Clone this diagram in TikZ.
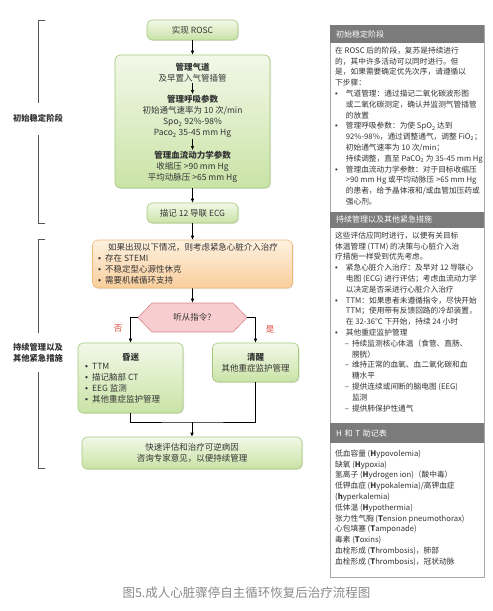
\documentclass[tikz,border=0pt]{standalone}
\usepackage{fontspec}
\setmainfont{Noto Sans CJK SC}
\newfontfamily\bulletfont{Liberation Sans}
\usepackage{tikz}
\usetikzlibrary{arrows.meta,shapes.symbols,shadows}
\definecolor{greentop}{HTML}{F2F8E8}
\definecolor{greenbot}{HTML}{C9E3A6}
\definecolor{greenline}{HTML}{A3C97A}
\definecolor{orangetop}{HTML}{FEF1E0}
\definecolor{orangebot}{HTML}{F9CE9B}
\definecolor{orangeline}{HTML}{EFB979}
\definecolor{pinkfill}{HTML}{F7CDD0}
\definecolor{pinkline}{HTML}{D88890}
\definecolor{panelgray}{HTML}{7B7B7B}
\definecolor{panelline}{HTML}{A8A8A8}
\definecolor{textc}{HTML}{333333}
\definecolor{redlabel}{HTML}{E0483F}
\definecolor{brkc}{HTML}{555555}
\definecolor{capc}{HTML}{8A8A8A}
\newcommand{\bul}{{\bulletfont\textbullet}}
\newcommand{\rpPar}[1]{\multicolumn{3}{@{}l@{}}{#1}}
\newcommand{\rpBul}[1]{\bul & \multicolumn{2}{l@{}}{#1}}
\newcommand{\rpCont}[1]{& \multicolumn{2}{l@{}}{#1}}
\newcommand{\rpSub}[1]{& \hspace*{5pt}– & #1}
\newcommand{\rpSubCont}[1]{& & #1}

\begin{document}
\begin{tikzpicture}[x=1pt, y=-1pt,
  gbox/.style={draw=greenline, line width=0.6pt, rounded corners=5pt, top color=greentop, bottom color=greenbot,
    drop shadow={opacity=0.18, shadow xshift=1pt, shadow yshift=-1pt}},
  obox/.style={draw=orangeline, line width=0.6pt, rounded corners=5pt, top color=orangetop, bottom color=orangebot,
    drop shadow={opacity=0.18, shadow xshift=1pt, shadow yshift=-1pt}},
  flowtxt/.style={font=\fontsize{8.5}{11}\selectfont, text=textc, align=center, inner sep=1pt},
  arr/.style={-{Latex[length=4pt,width=3.5pt]}, line width=0.6pt, black},
  lnk/.style={line width=0.6pt, black},
  brk/.style={brkc, line width=0.9pt},
  sidelab/.style={font=\fontsize{8.3}{11}\selectfont\bfseries, text=textc, align=center},
  hdr/.style={fill=panelgray, text=white, font=\fontsize{8}{10}\selectfont, anchor=north west, inner xsep=6pt, inner ysep=0pt,
    text width=142pt, minimum height=#1, align=left},
  paneltext/.style={font=\fontsize{7.7}{10.8}\selectfont, text=textc, anchor=north west, inner sep=0pt},
  branch/.style={font=\fontsize{8.5}{10}\selectfont, text=redlabel}]
  \useasboundingbox[fill=white] (0,0) rectangle (493,611);

  % left brackets
  \node[sidelab] (lab1) at (38,118) {初始稳定阶段};
  \node[sidelab] (lab2) at (38,352.5) {持续管理以及\\其他紧急措施};
  \draw[brk] (45,20) -- (38,20) -- (38,103);
  \draw[brk] (38,135) -- (38,223) -- (45,223);
  \draw[brk] (45,239) -- (38,239) -- (38,333);
  \draw[brk] (38,372) -- (38,468) -- (45,468);

  % flow
  \node[gbox, minimum width=91pt, minimum height=20pt, flowtxt] (rosc) at (192.5,30) {实现 ROSC};
  \node[gbox, minimum width=155pt, minimum height=133pt] (stab) at (192.5,121.5) {};
  \node[flowtxt] (airway) at (192.5,72.5) {\textbf{管理气道}\\及早置入气管插管};
  \node[flowtxt] (breath) at (192.5,116.5) {\textbf{管理呼吸参数}\\初始通气速率为 10 次/min\\Spo\textsubscript{2} 92\%-98\%\\Paco\textsubscript{2} 35-45 mm Hg};
  \node[flowtxt] (hemo) at (192.5,167) {\textbf{管理血流动力学参数}\\收缩压 >90 mm Hg\\平均动脉压 >65 mm Hg};
  \node[gbox, minimum width=91pt, minimum height=20pt, flowtxt] (ecg) at (192.5,213) {描记 12 导联 ECG};
  \node[obox, minimum width=200pt, minimum height=48pt] (pci) at (192.5,264) {};
  \node[flowtxt] (pcititle) at (193,247) {如果出现以下情况，则考虑紧急心脏介入治疗};
  \node[flowtxt, anchor=west, align=left] (pcilist) at (97,269) {\bul\hspace{4pt}存在 STEMI\\\bul\hspace{4pt}不稳定型心源性休克\\\bul\hspace{4pt}需要机械循环支持};
  \node[signal, signal to=west and east, signal pointer angle=92, draw=pinkline, fill=pinkfill, line width=0.6pt,
    minimum width=109pt, minimum height=29pt, flowtxt] (obey) at (192.5,317.5) {听从指令?};
  \node[gbox, minimum width=105pt, minimum height=70pt] (coma) at (130.5,378) {};
  \node[flowtxt] (comatitle) at (130.5,357) {\textbf{昏迷}};
  \node[flowtxt, anchor=west, align=left] (comalist) at (84,383) {\bul\hspace{4pt}TTM\\\bul\hspace{4pt}描记脑部 CT\\\bul\hspace{4pt}EEG 监测\\\bul\hspace{4pt}其他重症监护管理};
  \node[gbox, minimum width=86pt, minimum height=39pt, flowtxt] (awake) at (255.5,362.5) {\textbf{清醒}\\其他重症监护管理};
  \node[gbox, minimum width=220pt, minimum height=32pt, flowtxt] (cause) at (192,453) {快速评估和治疗可逆病因\\咨询专家意见，以便持续管理};
  \coordinate (join) at (192,422);

  \draw[arr] (rosc) -- (stab);
  \draw[arr] (airway) -- (breath);
  \draw[arr] (breath) -- (hemo);
  \draw[arr] (stab) -- (ecg);
  \draw[arr] (ecg) -- (pci);
  \draw[arr] (pci) -- (obey);
  \draw[arr] (obey.west) -| (coma.north);
  \draw[arr] (obey.east) -| (awake.north);
  \node[branch] (no) at (118,329) {否};
  \node[branch] (yes) at (270,329) {是};
  \draw[lnk] (coma.south) |- (join) -| (awake.south);
  \draw[arr] (join) -- (cause);

  % right panel
  \draw[panelline, line width=0.8pt, fill=white] (330,25) rectangle (484,577);
  \node[hdr=18pt] (h1) at (330,25) {初始稳定阶段};
  \node[hdr=16pt] (h2) at (330,211.5) {持续管理以及其他紧急措施};
  \node[hdr=20pt] (h3) at (330,423) {H 和 T 助记表};
  \node[paneltext] (s1) at (335,45.5) {\begin{tabular}{@{}l@{\hspace{2pt}}l@{\hspace{3pt}}l@{}}
    \rpPar{在 ROSC 后的阶段，复苏是持续进行}\\
    \rpPar{的，其中许多活动可以同时进行。但}\\
    \rpPar{是，如果需要确定优先次序，请遵循以}\\
    \rpPar{下步骤：}\\
    \rpBul{气道管理：通过描记二氧化碳波形图}\\
    \rpCont{或二氧化碳测定，确认并监测气管插管}\\
    \rpCont{的放置}\\
    \rpBul{管理呼吸参数：为使 SpO\textsubscript{2} 达到}\\
    \rpCont{92\%-98\%，通过调整通气，调整 FiO\textsubscript{2}；}\\
    \rpCont{初始通气速率为 10 次/min；}\\
    \rpCont{持续调整，直至 PaCO\textsubscript{2} 为 35-45 mm Hg}\\
    \rpBul{管理血流动力学参数：对于目标收缩压}\\
    \rpCont{>90 mm Hg 或平均动脉压 >65 mm Hg}\\
    \rpCont{的患者，给予晶体液和/或血管加压药或}\\
    \rpCont{强心剂。}
  \end{tabular}};
  \node[paneltext] (s2) at (335,230.5) {\begin{tabular}{@{}l@{\hspace{2pt}}l@{\hspace{3pt}}l@{}}
    \rpPar{这些评估应同时进行，以便有关目标}\\
    \rpPar{体温管理 (TTM) 的决策与心脏介入治}\\
    \rpPar{疗措施一样受到优先考虑。}\\
    \rpBul{紧急心脏介入治疗：及早对 12 导联心}\\
    \rpCont{电图 (ECG) 进行评估；考虑血流动力学}\\
    \rpCont{以决定是否采进行心脏介入治疗}\\
    \rpBul{TTM：如果患者未遵循指令，尽快开始}\\
    \rpCont{TTM；使用带有反馈回路的冷却装置，}\\
    \rpCont{在 32-36℃ 下开始，持续 24 小时}\\
    \rpBul{其他重症监护管理}\\
    \rpSub{持续监测核心体温（食管、直肠、}\\
    \rpSubCont{膀胱）}\\
    \rpSub{维持正常的血氧、血二氧化碳和血}\\
    \rpSubCont{糖水平}\\
    \rpSub{提供连续或间断的脑电图 (EEG)}\\
    \rpSubCont{监测}\\
    \rpSub{提供肺保护性通气}
  \end{tabular}};
  \node[paneltext] (s3) at (335,448.5) {\begin{tabular}{@{}l@{}}
    低血容量 (\textbf{H}ypovolemia)\\
    缺氧 (\textbf{H}ypoxia)\\
    氢离子 (\textbf{H}ydrogen ion)（酸中毒）\\
    低钾血症 (\textbf{H}ypokalemia)/高钾血症\\
    (\textbf{h}yperkalemia)\\
    低体温 (\textbf{H}ypothermia)\\
    张力性气胸 (\textbf{T}ension pneumothorax)\\
    心包填塞 (\textbf{T}amponade)\\
    毒素 (\textbf{T}oxins)\\
    血栓形成 (\textbf{T}hrombosis)，肺部\\
    血栓形成 (\textbf{T}hrombosis)，冠状动脉
  \end{tabular}};

  % caption
  \node[font=\fontsize{12.5}{14}\selectfont, text=capc] (cap) at (246.5,593) {图5.成人心脏骤停自主循环恢复后治疗流程图};
\end{tikzpicture}
\end{document}
